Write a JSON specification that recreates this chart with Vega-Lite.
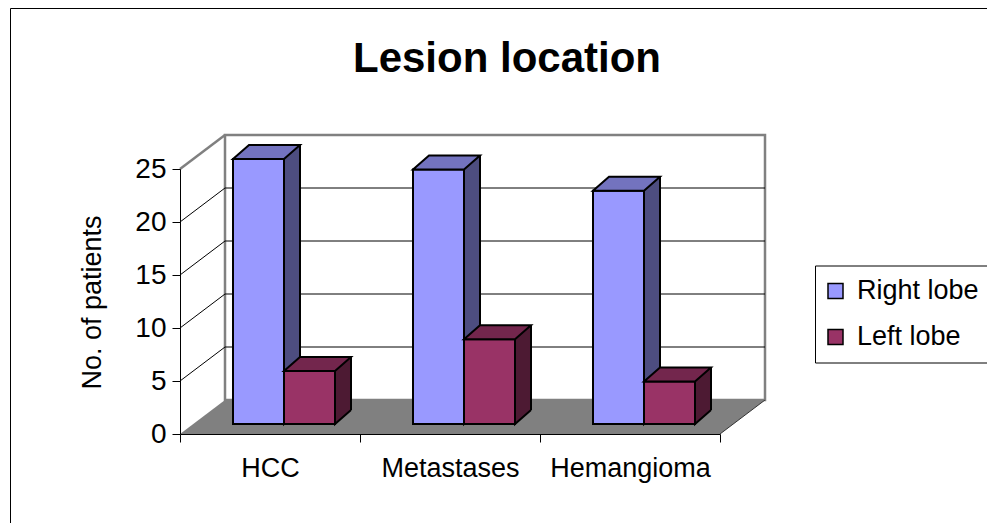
{
  "$schema": "https://vega.github.io/schema/vega-lite/v6.json",
  "width": 990,
  "height": 530,
  "autosize": {"type": "none"},
  "padding": {"left": 10, "top": 8, "right": -13, "bottom": -15},
  "background": "white",
  "config": {
    "font": "Liberation Sans",
    "view": {"stroke": "black", "strokeWidth": 1, "fill": null}
  },
  "title": {
    "text": "Lesion location",
    "anchor": "middle",
    "frame": "group",
    "fontSize": 42,
    "fontWeight": "bold",
    "font": "Liberation Sans",
    "color": "black",
    "baseline": "alphabetic",
    "offset": -106,
    "dx": 2
  },
  "datasets": {
    "patients": [
      {"category": "HCC", "lobe": "Right lobe", "patients": 25},
      {"category": "HCC", "lobe": "Left lobe", "patients": 5},
      {"category": "Metastases", "lobe": "Right lobe", "patients": 24},
      {"category": "Metastases", "lobe": "Left lobe", "patients": 8},
      {"category": "Hemangioma", "lobe": "Right lobe", "patients": 22},
      {"category": "Hemangioma", "lobe": "Left lobe", "patients": 4}
    ],
    "levels": [{"level": 5}, {"level": 10}, {"level": 15}, {"level": 20}],
    "frame": [{}]
  },
  "resolve": {"scale": {"xOffset": "independent"}},
  "layer": [
    {
      "data": {"name": "frame"},
      "mark": {"type": "rect", "fill": "white", "stroke": "#808080", "strokeWidth": 2.5, "xOffset": 45, "x2Offset": 45, "yOffset": -34, "y2Offset": -34},
      "encoding": {
        "x": {"datum": "HCC", "type": "nominal", "bandPosition": 0,
              "scale": {"type": "band", "domain": ["HCC", "Metastases", "Hemangioma"], "range": [170, 710], "paddingInner": 0, "paddingOuter": 0},
              "axis": {"title": null, "tickBand": "extent", "offset": -104, "tickSize": 8, "tickWidth": 1, "tickColor": "black",
                       "domainColor": "black", "domainWidth": 1, "labelFontSize": 27, "labelColor": "black", "labelPadding": 13,
                       "labelAngle": 0, "grid": false, "zindex": 1}},
        "x2": {"datum": "Hemangioma", "bandPosition": 1},
        "y": {"datum": 0, "type": "quantitative",
              "scale": {"domain": [0, 25], "range": [426, 161], "nice": false, "zero": true},
              "axis": {"title": "No. of patients", "values": [0, 5, 10, 15, 20, 25], "offset": -170, "tickSize": 8, "tickWidth": 1,
                       "tickColor": "black", "domainColor": "black", "domainWidth": 1, "labelFontSize": 28, "labelColor": "black",
                       "labelPadding": 6, "titleFontSize": 27, "titleFontWeight": "normal", "titleColor": "black",
                       "titleX": -88, "titleY": 294, "titleAngle": -90, "titleAlign": "center", "titleBaseline": "middle",
                       "grid": false, "zindex": 1}},
        "y2": {"datum": 25}
      }
    },
    {
      "data": {"name": "levels"},
      "mark": {"type": "rule", "stroke": "black", "strokeWidth": 1, "xOffset": 45, "x2Offset": 45, "yOffset": -34},
      "encoding": {
        "x": {"datum": "HCC", "type": "nominal", "bandPosition": 0},
        "x2": {"datum": "Hemangioma", "bandPosition": 1},
        "y": {"field": "level", "type": "quantitative"}
      }
    },
    {
      "data": {"name": "levels"},
      "mark": {"type": "rule", "stroke": "black", "strokeWidth": 1, "x2Offset": 45, "y2Offset": -34},
      "encoding": {
        "x": {"datum": "HCC", "type": "nominal", "bandPosition": 0},
        "x2": {"datum": "HCC", "bandPosition": 0},
        "y": {"field": "level", "type": "quantitative"},
        "y2": {"field": "level"}
      }
    },
    {
      "data": {"name": "frame"},
      "mark": {"type": "rule", "stroke": "#808080", "strokeWidth": 2.5, "x2Offset": 45, "y2Offset": -34},
      "encoding": {
        "x": {"datum": "HCC", "type": "nominal", "bandPosition": 0},
        "x2": {"datum": "HCC", "bandPosition": 0},
        "y": {"datum": 25, "type": "quantitative"},
        "y2": {"datum": 25}
      }
    },
    {
      "data": {"name": "frame"},
      "mark": {"type": "point", "shape": "M0,0L540,0L585,-34L45,-34Z", "size": 4, "filled": true, "fill": "#808080", "strokeWidth": 0, "opacity": 1},
      "encoding": {
        "x": {"datum": "HCC", "type": "nominal", "bandPosition": 0},
        "y": {"datum": 0, "type": "quantitative"}
      }
    },
    {
      "data": {"name": "frame"},
      "mark": {"type": "rule", "stroke": "#333333", "strokeWidth": 1, "x2Offset": 45, "y2Offset": -34},
      "encoding": {
        "x": {"datum": "Hemangioma", "type": "nominal", "bandPosition": 1},
        "x2": {"datum": "Hemangioma", "bandPosition": 1},
        "y": {"datum": 0, "type": "quantitative"},
        "y2": {"datum": 0}
      }
    },
    {
      "data": {"name": "patients"},
      "mark": {"type": "bar", "yOffset": -24, "y2Offset": -24},
      "encoding": {
        "x": {"field": "category", "type": "nominal", "sort": null},
        "xOffset": {"field": "lobe", "type": "nominal", "scale": {"type": "band", "domain": ["Right lobe", "Left lobe"], "range": [104, 171], "paddingInner": 0.686, "paddingOuter": 0}},
        "y": {"field": "patients", "type": "quantitative"},
        "fill": {"condition": {"test": "datum.lobe === 'Right lobe'", "value": "#4D4D80"}, "value": "#4D1A33"}
      }
    },
    {
      "data": {"name": "patients"},
      "mark": {"type": "point", "shape": "M0,-14L0,0L16,-14", "size": 4, "filled": true, "stroke": "black", "strokeWidth": 2, "opacity": 1, "yOffset": -10},
      "encoding": {
        "x": {"field": "category", "type": "nominal", "sort": null},
        "xOffset": {"field": "lobe", "type": "nominal", "scale": {"type": "band", "domain": ["Right lobe", "Left lobe"], "range": [78.5, 180.5], "paddingInner": 0, "paddingOuter": 0}},
        "y": {"datum": 0, "type": "quantitative"},
        "fill": {"condition": {"test": "datum.lobe === 'Right lobe'", "value": "#4D4D80"}, "value": "#4D1A33"}
      }
    },
    {
      "data": {"name": "patients"},
      "mark": {"type": "rule", "stroke": "black", "strokeWidth": 2, "yOffset": -24, "y2Offset": -24},
      "encoding": {
        "x": {"field": "category", "type": "nominal", "sort": null},
        "xOffset": {"field": "lobe", "type": "nominal", "scale": {"type": "band", "domain": ["Right lobe", "Left lobe"], "range": [94.5, 196.5], "paddingInner": 0, "paddingOuter": 0}},
        "y": {"field": "patients", "type": "quantitative"},
        "y2": {"datum": 0}
      }
    },
    {
      "data": {"name": "patients"},
      "mark": {"type": "bar", "stroke": "black", "strokeWidth": 2, "yOffset": -10, "y2Offset": -10},
      "encoding": {
        "x": {"field": "category", "type": "nominal", "sort": null},
        "xOffset": {"field": "lobe", "type": "nominal", "scale": {"type": "band", "domain": ["Right lobe", "Left lobe"], "range": [53, 155], "paddingInner": 0, "paddingOuter": 0}},
        "y": {"field": "patients", "type": "quantitative"},
        "fill": {"field": "lobe", "type": "nominal",
                 "scale": {"domain": ["Right lobe", "Left lobe"], "range": ["#9999FF", "#993366"]},
                 "legend": {"title": null, "orient": "none", "legendX": 805, "legendY": 257.5, "padding": 12,
                            "strokeColor": "black", "fillColor": "white", "symbolType": "square", "symbolSize": 225,
                            "symbolStrokeColor": "black", "symbolStrokeWidth": 1.5, "symbolOffset": -5,
                            "labelFontSize": 27, "labelColor": "black", "labelOffset": 8, "rowPadding": 18}}
      }
    },
    {
      "data": {"name": "patients"},
      "mark": {"type": "point", "shape": "M0,0L51,0L67,-14L16,-14Z", "size": 4, "filled": true, "stroke": "black", "strokeWidth": 2, "strokeJoin": "miter", "opacity": 1, "yOffset": -10},
      "encoding": {
        "x": {"field": "category", "type": "nominal", "sort": null},
        "xOffset": {"field": "lobe", "type": "nominal", "scale": {"type": "band", "domain": ["Right lobe", "Left lobe"], "range": [27.5, 129.5], "paddingInner": 0, "paddingOuter": 0}},
        "y": {"field": "patients", "type": "quantitative"},
        "fill": {"condition": {"test": "datum.lobe === 'Right lobe'", "value": "#7373BF"}, "value": "#73264D"}
      }
    }
  ]
}
